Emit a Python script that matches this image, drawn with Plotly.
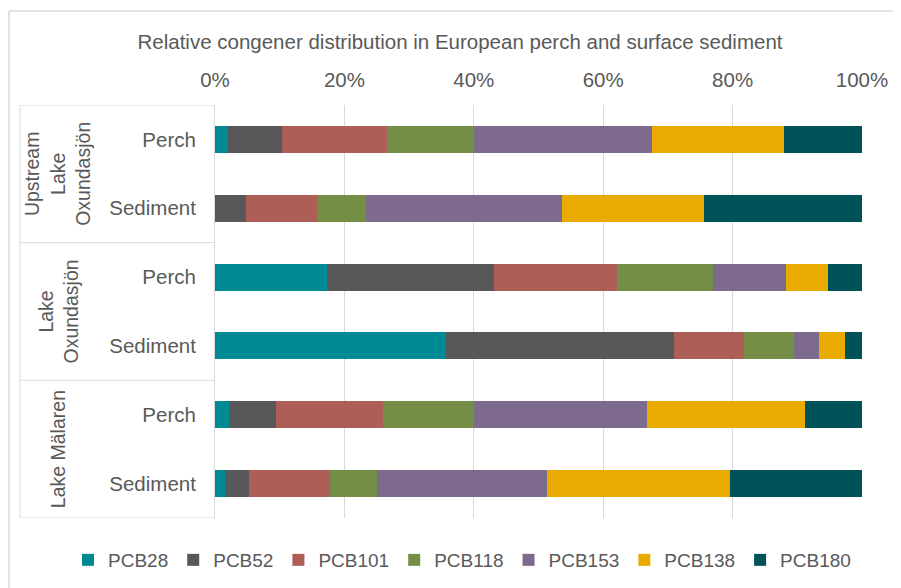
import plotly.graph_objects as go

groups = ["Upstream<br>Lake<br>Oxundasjön", "Upstream<br>Lake<br>Oxundasjön",
          "Lake<br>Oxundasjön", "Lake<br>Oxundasjön",
          "Lake Mälaren", "Lake Mälaren"]
group_names = ["Upstream<br>Lake<br>Oxundasjön", "Lake<br>Oxundasjön", "Lake Mälaren"]
samples = ["Perch", "Sediment", "Perch", "Sediment", "Perch", "Sediment"]

congeners = ["PCB28", "PCB52", "PCB101", "PCB118", "PCB153", "PCB138", "PCB180"]
colors = ["#008A94", "#58585B", "#AD5F57", "#758E46", "#7E6A8D", "#EAAB00", "#005259"]

pcb28 = [2.05, 0.0, 17.35, 35.75, 2.2, 1.6]
pcb52 = [8.35, 4.8, 25.8, 35.15, 7.3, 3.7]
pcb101 = [16.2, 11.0, 19.0, 10.8, 16.5, 12.5]
pcb118 = [13.45, 7.6, 14.75, 7.85, 14.05, 7.3]
pcb153 = [27.5, 30.2, 11.3, 3.75, 26.65, 26.2]
pcb138 = [20.4, 22.05, 6.5, 4.1, 24.55, 28.35]
pcb180 = [12.05, 24.35, 5.3, 2.6, 8.75, 20.35]

series = [pcb28, pcb52, pcb101, pcb118, pcb153, pcb138, pcb180]

# the page body adds an 8px margin, so the figure is laid out 8px smaller
OFF = 8
W, H = 901 - OFF, 588 - OFF
L = 215 - OFF
T = 105 - OFF
R = W - (862 - OFF)
B = H - (518 - OFF)
FONT = "Liberation Sans, Arial, sans-serif"
GREY = "#595959"
FS = 20.5

ypos = list(range(len(samples)))

fig = go.Figure()
for name, vals, col in zip(congeners, series, colors):
    fig.add_trace(go.Bar(
        x=[v / 100 for v in vals], y=ypos, orientation="h", name=name,
        marker=dict(color=col, line=dict(width=0)),
        hoverinfo="x+name",
    ))

pw = W - L - R
ph = H - T - B

fig.update_layout(
    width=W, height=H,
    barmode="stack", bargap=0.61,
    margin=dict(l=L, r=R, t=T, b=B, autoexpand=False),
    paper_bgcolor="white", plot_bgcolor="white",
    font=dict(family=FONT, size=FS, color=GREY),
    title=dict(text="Relative congener distribution in European perch and surface sediment",
               x=(460 - OFF) / W, xanchor="center", y=1 - (42 - OFF) / H, yanchor="middle",
               yref="container", font=dict(size=FS, color=GREY)),
    xaxis=dict(side="top", range=[0, 1], tickvals=[0, 0.2, 0.4, 0.6, 0.8, 1.0],
               tickformat=".0%", showgrid=True, gridcolor="#D9D9D9", gridwidth=1,
               zeroline=False, showline=False, ticks="", ticklabelstandoff=13,
               tickfont=dict(size=FS, color=GREY), fixedrange=True),
    yaxis=dict(tickvals=ypos, ticktext=samples, range=[5.5, -0.5],
               showgrid=False, zeroline=False, showline=True, linecolor="#D9D9D9",
               linewidth=1, ticks="", ticklabelstandoff=14,
               tickfont=dict(size=FS, color=GREY), fixedrange=True),
    legend=dict(orientation="h", xref="paper", yref="paper",
                x=(68 - OFF - L) / pw, xanchor="left",
                y=(H - B - (560 - OFF)) / ph, yanchor="middle",
                font=dict(size=19, color=GREY), traceorder="normal",
                itemwidth=30, tracegroupgap=0, bgcolor="rgba(0,0,0,0)"),
    showlegend=True,
)

# group separator lines of the category table
xl = (20 - OFF - L) / pw
for b in [-0.5, 1.5, 3.5, 5.5]:
    fig.add_shape(type="line", xref="paper", yref="y", x0=xl, x1=0, y0=b, y1=b,
                  line=dict(color="#D9D9D9", width=1))
fig.add_shape(type="line", xref="paper", yref="y", x0=xl, x1=xl, y0=-0.5, y1=5.5,
              line=dict(color="#D9D9D9", width=1))

# group labels (rotated)
xc = (58 - OFF - L) / pw
for g in group_names:
    idx = [i for i, gg in enumerate(groups) if gg == g]
    yc = sum(idx) / len(idx)
    fig.add_annotation(text=g, xref="paper", yref="y", x=xc, y=yc,
                       textangle=-90, showarrow=False, xanchor="center", yanchor="middle",
                       font=dict(size=19.5, color=GREY))

# outer chart border (top and left visible)
bx = (1 - L) / pw
by = (H - B - (11 - OFF)) / ph
fig.add_shape(type="line", xref="paper", yref="paper",
              x0=bx, x1=(W - L) / pw, y0=by, y1=by,
              line=dict(color="#D9D9D9", width=1.5))
fig.add_shape(type="line", xref="paper", yref="paper",
              x0=bx, x1=bx, y0=by, y1=(H - B - H) / ph,
              line=dict(color="#D9D9D9", width=1.5))

fig.write_html("out.html")
